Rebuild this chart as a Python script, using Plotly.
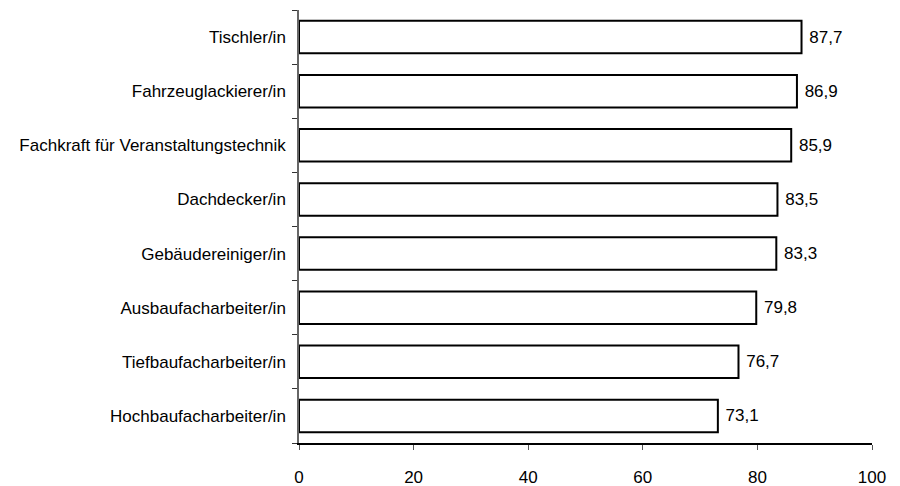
import plotly.graph_objects as go

berufe = [
    "Tischler/in",
    "Fahrzeuglackierer/in",
    "Fachkraft f\u00fcr Veranstaltungstechnik",
    "Dachdecker/in",
    "Geb\u00e4udereiniger/in",
    "Ausbaufacharbeiter/in",
    "Tiefbaufacharbeiter/in",
    "Hochbaufacharbeiter/in",
]
werte = [87.7, 86.9, 85.9, 83.5, 83.3, 79.8, 76.7, 73.1]
x_ticks = [0, 20, 40, 60, 80, 100]

font_family = "Liberation Sans Narrow, Liberation Sans, Arial, sans-serif"

fig = go.Figure(
    go.Bar(
        x=werte,
        y=berufe,
        orientation="h",
        width=0.6,
        marker=dict(color="white", line=dict(color="black", width=2)),
        text=werte,
        texttemplate=" %{x:.1f}",
        textposition="outside",
        textfont=dict(family=font_family, size=17, color="black"),
        cliponaxis=False,
    )
)

# the page puts the figure 8px in from the top left corner
fig.update_layout(
    width=900,
    height=486,
    margin=dict(l=291, r=36, t=2, b=51),
    plot_bgcolor="white",
    paper_bgcolor="white",
    separators=",.",
    showlegend=False,
    font=dict(family=font_family, size=17, color="black"),
    xaxis=dict(
        range=[0, 100],
        tickvals=x_ticks,
        showgrid=False,
        zeroline=False,
        showline=True,
        linecolor="black",
        linewidth=1.5,
        ticks="outside",
        ticklen=5,
        tickcolor="#555555",
        ticklabelstandoff=13,
    ),
    yaxis=dict(
        categoryorder="array",
        categoryarray=berufe[::-1],
        range=[-0.5, 7.5],
        showgrid=False,
        zeroline=False,
        showline=True,
        linecolor="#666666",
        linewidth=1.5,
        ticks="outside",
        tickson="boundaries",
        ticklen=5,
        tickcolor="#333333",
        ticklabelstandoff=8,
        automargin=False,
    ),
)

fig.write_html("out.html")
